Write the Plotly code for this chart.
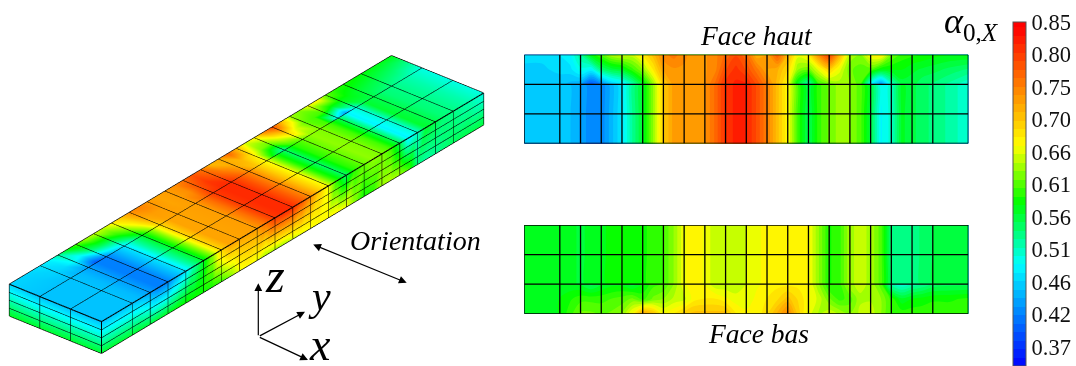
import numpy as np
import plotly.graph_objects as go

# ---- dimensions of the plate and mesh lines ----
longueur = 600.0
largeur = 119.2
epaisseur = 36.4
bords_long = [0, 48, 76, 104, 132, 160, 188, 216, 244, 272, 300, 328, 356, 384, 412, 440, 468, 496, 524, 552, 600]
bords_larg = [0, largeur / 3, 2 * largeur / 3, largeur]
couches = [0, epaisseur / 4, epaisseur / 2, 3 * epaisseur / 4, epaisseur]

# ---- alpha_0,X values: mesh nodes and mid-cell points along the length ----
haut_arete = [.47, .47, .48, .49, .53, .58, .61, .64, .65, .65, .68, .71, .75, .76, .745, .735, .74, .75, .77, .79, .77,
              .72, .73, .78, .72, .66, .68, .75, .80, .72, .64, .63, .67, .68, .62, .60, .595, .59, .585, .58, .58]
haut_milieu = [.465, .465, .47, .475, .50, .49, .54, .56, .57, .60, .63, .68, .73, .74, .74, .735, .74, .75, .79, .81, .79,
               .76, .73, .72, .69, .63, .62, .66, .70, .66, .62, .61, .61, .58, .58, .58, .57, .565, .56, .55, .54]
haut_bord = [.46, .46, .46, .45, .44, .39, .42, .46, .48, .52, .57, .63, .70, .735, .735, .737, .74, .77, .81, .82, .82,
             .79, .755, .71, .67, .57, .52, .60, .62, .635, .63, .61, .49, .43, .51, .56, .56, .545, .54, .525, .505]
haut_corps = [.46, .46, .46, .455, .44, .42, .42, .45, .48, .53, .57, .63, .70, .735, .735, .737, .74, .77, .81, .82, .82,
              .79, .755, .71, .67, .60, .55, .60, .62, .635, .63, .61, .56, .49, .51, .57, .56, .545, .54, .525, .505]
bas_corps = [.57, .57, .57, .57, .565, .57, .575, .585, .59, .59, .59, .595, .605, .63, .665, .675, .665, .645, .645, .645, .655,
             .665, .67, .675, .675, .675, .67, .63, .59, .60, .64, .645, .64, .61, .54, .53, .535, .545, .555, .56, .565]
bas_bord = [.57, .57, .57, .57, .565, .55, .565, .575, .575, .56, .58, .60, .605, .63, .665, .675, .665, .645, .645, .645, .655,
            .665, .67, .675, .675, .675, .67, .63, .59, .60, .64, .645, .64, .61, .52, .505, .52, .53, .545, .55, .55]
bas_milieu = [.57, .57, .58, .59, .60, .60, .60, .605, .61, .62, .60, .62, .63, .645, .65, .675, .68, .68, .67, .66, .66,
              .67, .68, .69, .71, .69, .67, .65, .62, .60, .61, .64, .64, .63, .60, .57, .58, .585, .59, .59, .595]
bas_arete = [.575, .575, .58, .60, .62, .62, .615, .62, .63, .67, .73, .71, .67, .68, .70, .71, .71, .71, .71, .68, .67,
             .67, .69, .72, .75, .70, .66, .64, .65, .64, .63, .645, .65, .63, .60, .60, .60, .60, .60, .60, .60]

# ---- colour bar ----
valeurs_barre = [0.85, 0.802, 0.754, 0.706, 0.658, 0.61, 0.562, 0.514, 0.466, 0.418, 0.37]
textes_barre = ["0.85", "0.80", "0.75", "0.70", "0.66", "0.61", "0.56", "0.51", "0.46", "0.42", "0.37"]
cmin, cmax = 0.342, 0.85
echelle = [[0, "#0000ff"], [0.30, "#00ffff"], [0.483, "#00ff00"], [0.65, "#ffff00"], [1, "#ff0000"]]

W, H = 1076, 366
SERIF = "Liberation Serif"

y_noeuds = np.interp(np.arange(41) / 2, np.arange(21), bords_long)
eps = 0.4
x_haut = [0, largeur / 6, largeur / 3, largeur / 3 + eps, 2 * largeur / 3, largeur]
z_haut = np.array([haut_arete, haut_milieu, haut_bord, haut_corps, haut_corps, haut_corps])
x_bas = [0, largeur / 3, 2 * largeur / 3 - eps, 2 * largeur / 3, 5 * largeur / 6, largeur]
z_bas = np.array([bas_corps, bas_corps, bas_corps, bas_bord, bas_milieu, bas_arete])

fig = go.Figure()

# ---- flat views ----
def vue(zv, yv, xname, yname, show):
    fig.add_trace(go.Contour(
        x=y_noeuds, y=yv, z=zv, xaxis=xname, yaxis=yname, zmin=cmin, zmax=cmax, colorscale=echelle,
        contours=dict(coloring="fill", start=cmin, end=cmax, size=0.0125, showlines=False),
        line=dict(width=0), hoverinfo="skip", showscale=show,
        colorbar=dict(x=1013 / W, xanchor="left", xpad=0, ypad=0, y=1 - 22 / H, yanchor="top",
                      lenmode="pixels", len=344, thicknessmode="pixels", thickness=13,
                      tickmode="array", tickvals=valeurs_barre, ticktext=textes_barre, ticks="",
                      tickfont=dict(family=SERIF, size=22.5, color="#111"),
                      outlinecolor="#555", outlinewidth=1, borderwidth=0)))
    lx, ly = [], []
    for b in bords_long:
        lx += [b, b, None]
        ly += [0, largeur, None]
    for b in bords_larg:
        lx += [0, longueur, None]
        ly += [b, b, None]
    fig.add_trace(go.Scatter(x=lx, y=ly, mode="lines", xaxis=xname, yaxis=yname, hoverinfo="skip",
                             line=dict(color="black", width=1.3), showlegend=False, cliponaxis=False))

vue(z_haut, x_haut, "x", "y", True)
vue(z_bas, x_bas, "x2", "y2", False)

# ---- 3D view: top face, long side, end face ----
vx, vy, vz, vc, fi, fj, fk = [], [], [], [], [], [], []

def face(px, py, pz, pc):
    n0 = len(vx)
    nr, nc = px.shape
    vx.extend(px.ravel()); vy.extend(py.ravel()); vz.extend(pz.ravel()); vc.extend(pc.ravel())
    for r in range(nr - 1):
        for c in range(nc - 1):
            a = n0 + r * nc + c
            b, d, e = a + 1, a + nc, a + nc + 1
            fi.extend([a, a]); fj.extend([b, e]); fk.extend([e, d])

Xg, Yg = np.meshgrid(x_haut, y_noeuds, indexing="ij")
face(Xg, Yg, np.full(Xg.shape, epaisseur), z_haut)
zs = np.array([0.0, epaisseur])
Yg, Zg = np.meshgrid(y_noeuds, zs)
face(np.full(Yg.shape, largeur), Yg, Zg, np.array([bas_corps, haut_corps]))
x_bout = [0, largeur / 3, 2 * largeur / 3, largeur]
bout_haut = [haut_arete[0], haut_bord[0], haut_corps[0], haut_corps[0]]
bout_bas = [bas_arete[0], bas_bord[0], bas_corps[0], bas_corps[0]]
Xe, Ze = np.meshgrid(x_bout, zs)
face(Xe, np.zeros(Xe.shape), Ze, np.array([bout_bas, bout_haut]))

fig.add_trace(go.Mesh3d(x=vx, y=vy, z=vz, i=fi, j=fj, k=fk, intensity=vc, intensitymode="vertex",
                        cmin=cmin, cmax=cmax, colorscale=echelle, showscale=False, hoverinfo="skip",
                        flatshading=False,
                        lighting=dict(ambient=1, diffuse=0, specular=0, fresnel=0, roughness=1),
                        scene="scene"))

lx, ly, lz = [], [], []
def seg(a, b):
    lx.extend([a[0], b[0], None]); ly.extend([a[1], b[1], None]); lz.extend([a[2], b[2], None])
for b in bords_long:
    seg((0, b, epaisseur), (largeur, b, epaisseur))
    seg((largeur, b, 0), (largeur, b, epaisseur))
for b in bords_larg:
    seg((b, 0, epaisseur), (b, longueur, epaisseur))
    seg((b, 0, 0), (b, 0, epaisseur))
for c in couches:
    seg((largeur, 0, c), (largeur, longueur, c))
    seg((0, 0, c), (largeur, 0, c))
fig.add_trace(go.Scatter3d(x=lx, y=ly, z=lz, mode="lines", line=dict(color="black", width=2.2),
                           hoverinfo="skip", showlegend=False, scene="scene"))

# ---- layout ----
def axe(dom, rng):
    return dict(domain=dom, range=rng, visible=False, fixedrange=True)

cache = dict(visible=False, showbackground=False, showgrid=False, zeroline=False, showticklabels=False, showspikes=False)
k = 6.0
zoom = 3.72
fig.update_layout(
    width=W, height=H, margin=dict(l=0, r=0, t=0, b=0), showlegend=False,
    paper_bgcolor="white", plot_bgcolor="white",
    xaxis=axe([524.3 / W, 968.3 / W], [0, longueur]),
    yaxis=axe([1 - 143.5 / H, 1 - 54.7 / H], [largeur, 0]),
    xaxis2=axe([524.3 / W, 968.3 / W], [0, longueur]),
    yaxis2=axe([1 - 313.7 / H, 1 - 225 / H], [largeur, 0]),
    scene=dict(
        domain=dict(x=[0, 493 / W], y=[0, 1 - 43.4 / H]),
        xaxis=dict(range=[0, largeur], **cache), yaxis=dict(range=[0, longueur], **cache),
        zaxis=dict(range=[0, epaisseur], **cache),
        aspectmode="manual",
        aspectratio=dict(x=zoom * largeur / longueur, y=zoom, z=zoom * epaisseur / longueur),
        camera=dict(projection=dict(type="orthographic"), up=dict(x=0, y=0, z=1),
                    center=dict(x=0, y=0, z=0),
                    eye=dict(x=.5535 * k, y=-.6717 * k, z=.4932 * k)),
    ),
)

def texte(s, px, py, size):
    fig.add_annotation(text=s, x=px / W, y=1 - py / H, xref="paper", yref="paper", showarrow=False,
                       xanchor="center", yanchor="middle", font=dict(family=SERIF, size=size, color="black"))

texte("<i>Face haut</i>", 756, 35, 27.5)
texte("<i>Face bas</i>", 758, 333, 27.5)
texte("<i>Orientation</i>", 415, 241, 28)
texte("<i>α</i><sub>0,<i>X</i></sub>", 971, 24, 36)
texte("<i>z</i>", 275, 275, 48)
texte("<i>y</i>", 319, 296, 42)
texte("<i>x</i>", 320, 344, 46)

def fleche(x0, y0, x1, y1, side="end"):
    fig.add_annotation(x=x1 / W, y=1 - y1 / H, ax=x0 - x1, ay=y0 - y1, xref="paper", yref="paper",
                       text="", showarrow=True, arrowhead=2, arrowsize=1.3,
                       arrowwidth=1.2, arrowcolor="black", arrowside=side, standoff=0, startstandoff=0,
                       startarrowhead=2, startarrowsize=1.3)

fleche(258.3, 336.7, 258.3, 283.3)
fleche(258.3, 336.7, 305, 311.7)
fleche(258.3, 336.7, 308, 360)
fleche(311.7, 244, 406.7, 282.7, "end+start")

fig.write_html("out.html", config=dict(displayModeBar=False),
               post_script="document.body.style.margin='0';document.body.style.overflow='hidden';")
